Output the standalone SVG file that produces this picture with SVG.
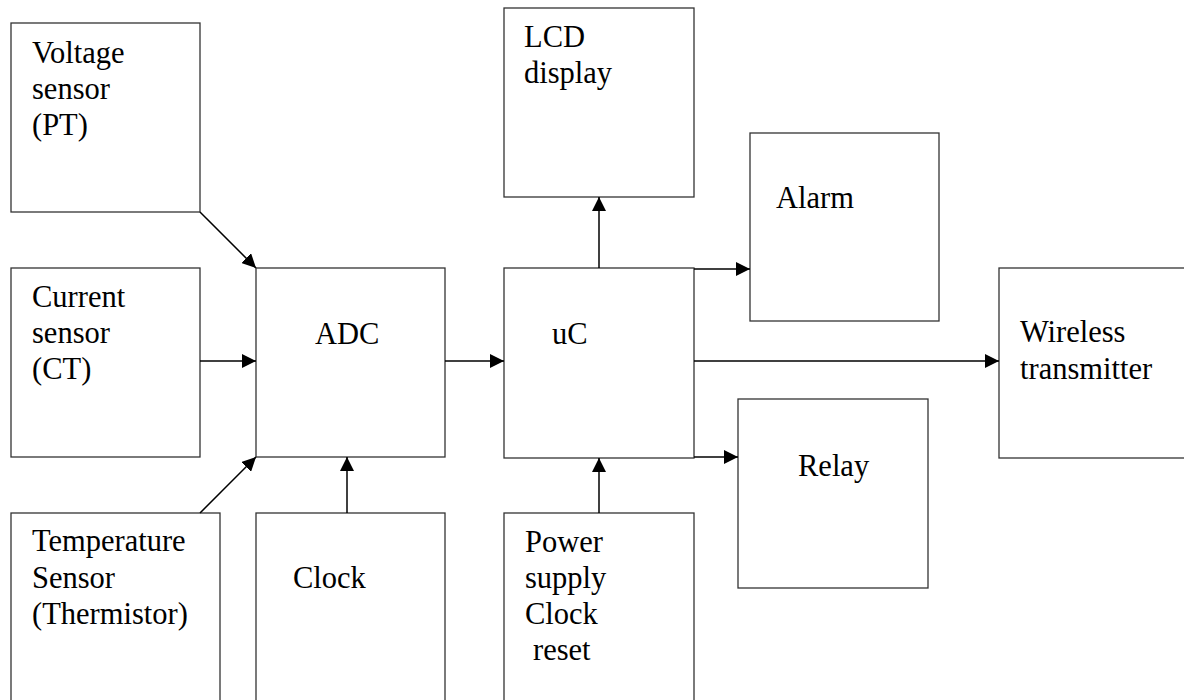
<svg xmlns="http://www.w3.org/2000/svg" width="1184" height="700" viewBox="0 0 1184 700">
<style>
.box{fill:#fff;stroke:#333;stroke-width:1.3}
.lbl{font-family:"Liberation Serif","Times New Roman",serif;font-size:30.5px;fill:#000}
.con{stroke:#000;stroke-width:1.5;fill:none;marker-end:url(#ah)}
</style>
<defs>
<marker id="ah" markerUnits="userSpaceOnUse" markerWidth="15" markerHeight="14" refX="14" refY="7" orient="auto">
<path d="M0,0 L14,7 L0,14 z" fill="#000"/>
</marker>
</defs>
<rect width="1184" height="700" fill="#fff"/>
<g id="voltage"><rect class="box" x="11" y="23" width="189" height="189"/>
<text class="lbl" x="32" y="63">Voltage</text><text class="lbl" x="32" y="99">sensor</text><text class="lbl" x="32" y="135">(PT)</text></g>
<g id="current"><rect class="box" x="11" y="268" width="189" height="189"/>
<text class="lbl" x="32" y="307">Current</text><text class="lbl" x="32" y="343">sensor</text><text class="lbl" x="32" y="379">(CT)</text></g>
<g id="temperature"><rect class="box" x="11" y="513" width="209" height="200"/>
<text class="lbl" x="32" y="551">Temperature</text><text class="lbl" x="32" y="588">Sensor</text><text class="lbl" x="32" y="624">(Thermistor)</text></g>
<g id="adc"><rect class="box" x="256" y="268" width="189" height="189"/>
<text class="lbl" x="315" y="344">ADC</text></g>
<g id="clock"><rect class="box" x="256" y="513" width="189" height="200"/>
<text class="lbl" x="293" y="588">Clock</text></g>
<g id="lcd"><rect class="box" x="504" y="8" width="190" height="189"/>
<text class="lbl" x="524" y="47">LCD</text><text class="lbl" x="524" y="83">display</text></g>
<g id="uc"><rect class="box" x="504" y="268" width="190" height="190"/>
<text class="lbl" x="552" y="344">uC</text></g>
<g id="power"><rect class="box" x="504" y="513" width="190" height="200"/>
<text class="lbl" x="525" y="552">Power</text><text class="lbl" x="525" y="588">supply</text><text class="lbl" x="525" y="624">Clock</text><text class="lbl" x="533" y="660">reset</text></g>
<g id="alarm"><rect class="box" x="750" y="133" width="189" height="188"/>
<text class="lbl" x="776" y="208">Alarm</text></g>
<g id="relay"><rect class="box" x="738" y="399" width="190" height="189"/>
<text class="lbl" x="798" y="476">Relay</text></g>
<g id="wireless"><rect class="box" x="999" y="268" width="190" height="190"/>
<text class="lbl" x="1020" y="342">Wireless</text><text class="lbl" x="1020" y="379">transmitter</text></g>
<g id="connectors">
<line class="con" x1="200" y1="212" x2="256" y2="268"/>
<line class="con" x1="200" y1="361" x2="256" y2="361"/>
<line class="con" x1="200" y1="513" x2="256" y2="457"/>
<line class="con" x1="347" y1="513" x2="347" y2="457"/>
<line class="con" x1="445" y1="361" x2="504" y2="361"/>
<line class="con" x1="599" y1="268" x2="599" y2="197"/>
<line class="con" x1="694" y1="269" x2="750" y2="269"/>
<line class="con" x1="694" y1="361" x2="999" y2="361"/>
<line class="con" x1="694" y1="457" x2="738" y2="457"/>
<line class="con" x1="599" y1="513" x2="599" y2="458"/>
</g>
</svg>
